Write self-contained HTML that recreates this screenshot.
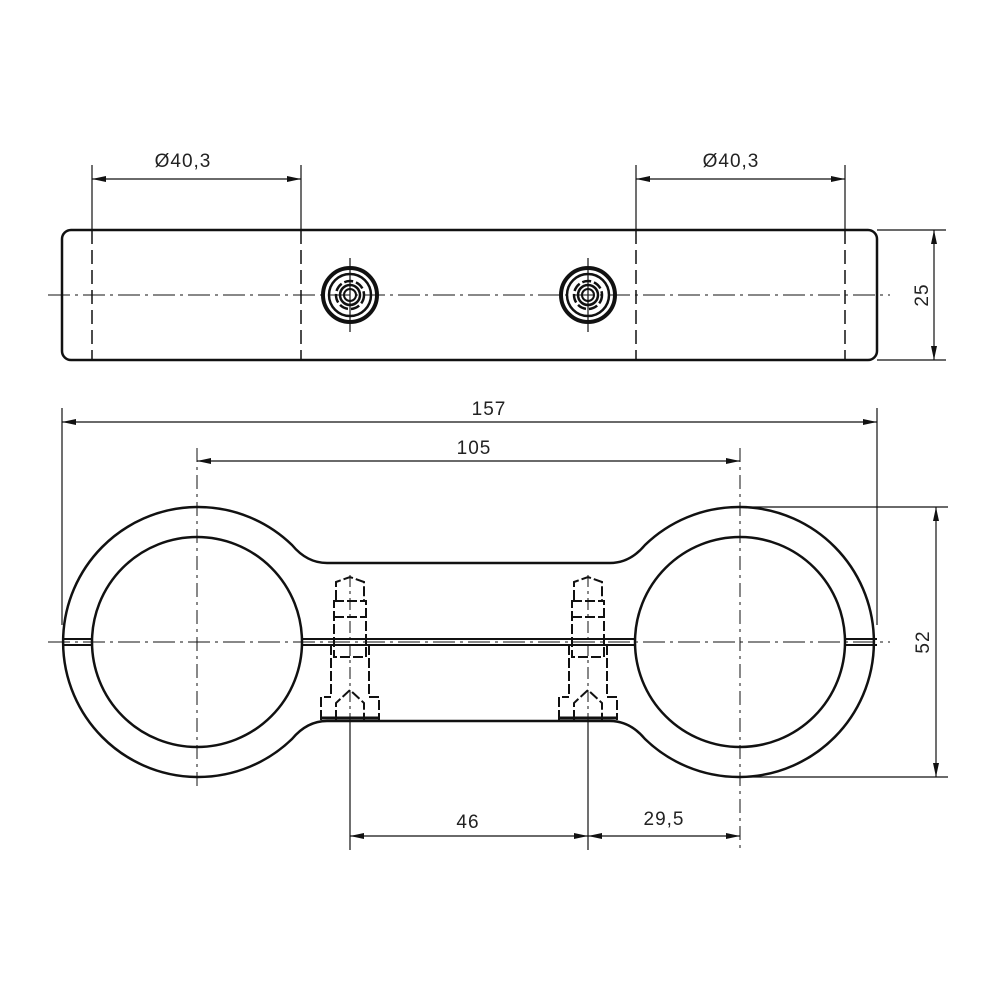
<!DOCTYPE html>
<html><head><meta charset="utf-8"><style>
html,body{margin:0;padding:0;background:#fff}
svg{display:block}
text{font-family:"Liberation Sans",sans-serif;font-size:19px;fill:#222;letter-spacing:1px}
</style></head><body>
<svg width="1000" height="1000" viewBox="0 0 1000 1000" xmlns="http://www.w3.org/2000/svg">
<defs>
<marker id="a" viewBox="0 0 14 6" refX="14" refY="3" markerWidth="14" markerHeight="6" markerUnits="userSpaceOnUse" orient="auto-start-reverse"><path d="M0,0 L14,3 L0,6 Z" fill="#111"/></marker>
</defs>
<g fill="none" stroke="#111">
<!-- TOP VIEW -->
<rect x="62" y="230" width="815" height="130" rx="9" stroke-width="2.5"/>
<g stroke-width="1.5" stroke-dasharray="14,6">
<line x1="92" y1="230" x2="92" y2="360"/><line x1="301" y1="230" x2="301" y2="360"/>
<line x1="636" y1="230" x2="636" y2="360"/><line x1="845" y1="230" x2="845" y2="360"/>
</g>
<line x1="48" y1="295" x2="890" y2="295" stroke-width="1" stroke-dasharray="22,5,3,5"/>
<g stroke-width="1.2">
<line x1="92" y1="165" x2="92" y2="230"/><line x1="301" y1="165" x2="301" y2="230"/>
<line x1="636" y1="165" x2="636" y2="230"/><line x1="845" y1="165" x2="845" y2="230"/>
<line x1="92" y1="179" x2="301" y2="179" marker-start="url(#a)" marker-end="url(#a)"/>
<line x1="636" y1="179" x2="845" y2="179" marker-start="url(#a)" marker-end="url(#a)"/>
<line x1="877" y1="230" x2="946" y2="230"/><line x1="877" y1="360" x2="946" y2="360"/>
<line x1="934" y1="230" x2="934" y2="360" marker-start="url(#a)" marker-end="url(#a)"/>
</g>
<g id="nut">
<circle cx="350" cy="295" r="27" stroke-width="4"/>
<circle cx="350" cy="295" r="21" stroke-width="2.5"/>
<circle cx="350" cy="295" r="14" stroke-width="2.5" stroke-dasharray="9,3"/>
<circle cx="350" cy="295" r="10" stroke-width="2.5"/>
<circle cx="350" cy="295" r="6" stroke-width="2"/>
<line x1="350" y1="258" x2="350" y2="332" stroke-width="1.2"/>
</g>
<use href="#nut" transform="translate(238,0)"/>

<!-- FRONT VIEW -->
<path d="M292 545 Q307 563 327 563 L610 563 Q630 563 645 545 A135 135 0 1 1 645 739 Q630 721 610 721 L327 721 Q307 721 292 739 A135 135 0 1 1 292 545 Z" stroke-width="2.5" fill="#fff"/>
<circle cx="197" cy="642" r="105" stroke-width="2.5"/>
<circle cx="740" cy="642" r="105" stroke-width="2.5"/>
<g stroke-width="2">
<line x1="62" y1="639" x2="92" y2="639"/><line x1="62" y1="645" x2="92" y2="645"/>
<line x1="845" y1="639" x2="877" y2="639"/><line x1="845" y1="645" x2="877" y2="645"/>
<line x1="301" y1="639" x2="636" y2="639"/><line x1="301" y1="645" x2="636" y2="645"/>
</g>
<line x1="48" y1="642" x2="890" y2="642" stroke-width="1" stroke-dasharray="22,5,3,5"/>
<line x1="197" y1="448" x2="197" y2="790" stroke-width="1" stroke-dasharray="14,5,3,5"/>
<line x1="740" y1="448" x2="740" y2="850" stroke-width="1" stroke-dasharray="14,5,3,5"/>
<g id="bolt" stroke-width="2" stroke-dasharray="10,3">
<path d="M336 600 L336 582 L350 577 L364 582 L364 600"/>
<rect x="334" y="601" width="32" height="56"/>
<line x1="334" y1="617" x2="366" y2="617"/>
<line x1="331" y1="645" x2="331" y2="697"/><line x1="369" y1="645" x2="369" y2="697"/>
<path d="M321 720 L321 697 L331 697 M369 697 L379 697 L379 720"/>
<path d="M336 720 L336 703 L350 690 L364 703 L364 720"/>
<line x1="320" y1="718" x2="380" y2="718" stroke-dasharray="none" stroke-width="3"/>
<line x1="350" y1="575" x2="350" y2="720" stroke-width="1" stroke-dasharray="12,4,3,4"/>
</g>
<use href="#bolt" transform="translate(238,0)"/>

<g stroke-width="1.2">
<line x1="62" y1="408" x2="62" y2="625"/><line x1="877" y1="408" x2="877" y2="625"/>
<line x1="62" y1="422" x2="877" y2="422" marker-start="url(#a)" marker-end="url(#a)"/>
<line x1="197" y1="461" x2="740" y2="461" marker-start="url(#a)" marker-end="url(#a)"/>
<line x1="740" y1="507" x2="948" y2="507"/><line x1="740" y1="777" x2="948" y2="777"/>
<line x1="936" y1="507" x2="936" y2="777" marker-start="url(#a)" marker-end="url(#a)"/>
<line x1="350" y1="720" x2="350" y2="850"/><line x1="588" y1="720" x2="588" y2="850"/>
<line x1="350" y1="836" x2="588" y2="836" marker-start="url(#a)" marker-end="url(#a)"/>
<line x1="588" y1="836" x2="740" y2="836" marker-start="url(#a)" marker-end="url(#a)"/>
</g>
</g>
<text x="183" y="167" text-anchor="middle">Ø40,3</text>
<text x="731" y="167" text-anchor="middle">Ø40,3</text>
<text x="489" y="415" text-anchor="middle">157</text>
<text x="474" y="454" text-anchor="middle">105</text>
<text x="468" y="828" text-anchor="middle">46</text>
<text x="664" y="825" text-anchor="middle">29,5</text>
<text transform="translate(928,295) rotate(-90)" text-anchor="middle">25</text>
<text transform="translate(929,642) rotate(-90)" text-anchor="middle">52</text>
</svg>
</body></html>
